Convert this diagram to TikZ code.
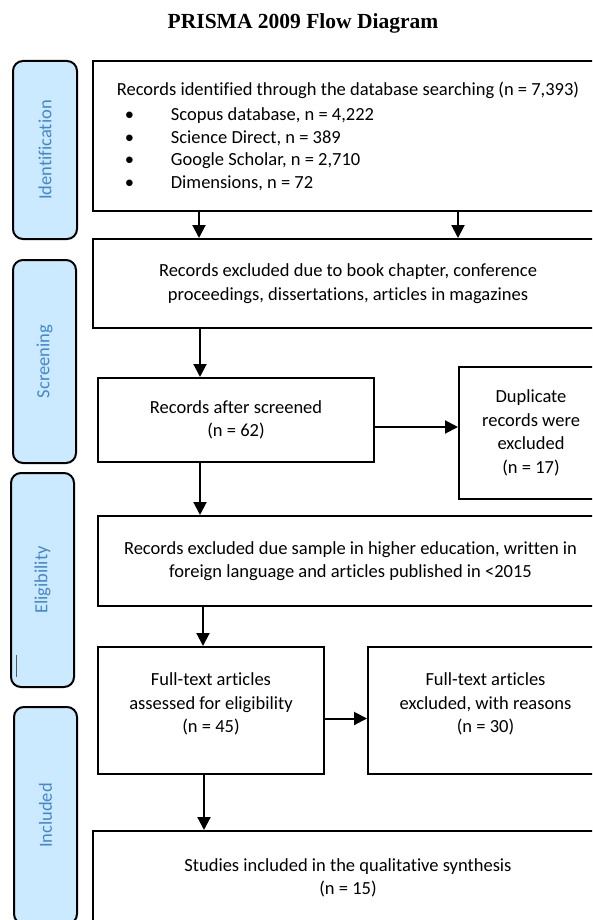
\documentclass[tikz,border=0pt]{standalone}
\usepackage{fontspec}
\setmainfont{Carlito}[Ligatures=NoCommon]
\newfontfamily\titlefont{Liberation Serif}
\usetikzlibrary{arrows.meta}
\definecolor{pillfill}{RGB}{204,234,255}
\definecolor{pilltext}{RGB}{68,134,205}
\begin{document}
\begin{tikzpicture}[x=1pt,y=-1pt,
  box/.style={draw, line width=2pt, fill=white, inner sep=0pt, anchor=north west,
    align=center, font=\fontsize{18.5}{23.5}\selectfont},
  txt/.style={inner sep=0pt, align=center, font=\fontsize{18.5}{23.5}\selectfont},
  pill/.style={draw, line width=2pt, fill=pillfill, rounded corners=10pt, rotate=90,
    inner sep=0pt, text=pilltext, font=\fontsize{18.5}{22}\selectfont},
  arr/.style={line width=2pt, -{Triangle[width=13pt,length=13pt]}}]
\fill[white] (0,0) rectangle (592,920);
\useasboundingbox (0,0) rectangle (592,920);
\clip (0,0) rectangle (592,920);

\node[font=\titlefont\bfseries\fontsize{21.5}{25}\selectfont, anchor=base] (title) at (303,29) {PRISMA 2009 Flow Diagram};

% stage pills
\node[pill, minimum width=178pt, minimum height=64pt] (pid) at (45,150) {Identification};
\node[pill, minimum width=203pt, minimum height=63pt] (psc) at (44.5,361.5) {Screening};
\node[pill, minimum width=214pt, minimum height=63pt] (pel) at (42.5,580) {Eligibility};
\node[pill, minimum width=217pt, minimum height=63pt] (pin) at (45.5,815.5) {Included};
\draw[line width=1pt, black!65] (16,655) -- (16,677);

% boxes
\node[box, minimum width=510pt, minimum height=150pt, align=left] (b1) at (92,60)
 {Records identified through the database searching (n = 7,393)\\[2pt]
  \makebox[54pt][l]{\hspace*{8pt}\textbullet}Scopus database, n = 4,222\\[-1pt]
  \makebox[54pt][l]{\hspace*{8pt}\textbullet}Science Direct, n = 389\\[-1pt]
  \makebox[54pt][l]{\hspace*{8pt}\textbullet}Google Scholar, n = 2,710\\[-1pt]
  \makebox[54pt][l]{\hspace*{8pt}\textbullet}Dimensions, n = 72};
\node[box, minimum width=510pt, minimum height=89pt] (b2) at (92,238)
 {Records excluded due to book chapter, conference\\proceedings, dissertations, articles in magazines};
\node[box, minimum width=276pt, minimum height=84pt] (b3) at (97,377)
 {Records after screened\\(n = 62)};
\node[box, minimum width=144pt, minimum height=132pt] (b4) at (458,366)
 {Duplicate\\records were\\excluded\\(n = 17)};
\node[box, minimum width=505pt, minimum height=90pt] (b5) at (97,515)
 {Records excluded due sample in higher education, written in\\foreign language and articles published in <2015};
\node[box, minimum width=226pt, minimum height=127pt] (b6) at (97,646) {};
\node[txt] (b6t) at ([yshift=6.5pt]b6.center) {Full-text articles\\assessed for eligibility\\(n = 45)};
\node[box, minimum width=235pt, minimum height=127pt] (b7) at (367,646) {};
\node[txt] (b7t) at ([yshift=6.5pt]b7.center) {Full-text articles\\excluded, with reasons\\(n = 30)};
\node[box, minimum width=510pt, minimum height=94pt] (b8) at (92,830)
 {Studies included in the qualitative synthesis\\(n = 15)};

% arrows
\draw[arr] ([xshift=107pt]b1.south west) -- ([xshift=107pt]b2.north west);
\draw[arr] ([xshift=366pt]b1.south west) -- ([xshift=366pt]b2.north west);
\draw[arr] ([xshift=108pt]b2.south west) -- ([xshift=103pt]b3.north west);
\draw[arr] ([yshift=-7pt]b3.east) -- ([yshift=-7pt]b3.east -| b4.west);
\draw[arr] ([xshift=103pt]b3.south west) -- ([xshift=103pt]b5.north west);
\draw[arr] ([xshift=106pt]b5.south west) -- ([xshift=106pt]b6.north west);
\draw[arr] ([yshift=-8pt]b6.east) -- ([yshift=-8pt]b6.east -| b7.west);
\draw[arr] ([xshift=107pt]b6.south west) -- ([xshift=112pt]b8.north west);
\end{tikzpicture}
\end{document}
